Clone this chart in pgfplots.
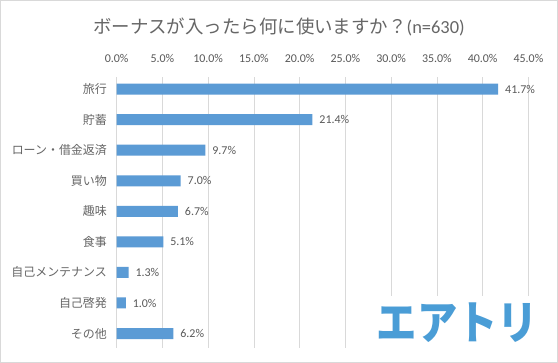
\documentclass[border=0pt]{standalone}
\usepackage{pgfplots}
\pgfplotsset{compat=1.18}
\usepackage{fontspec}
\setmainfont{Carlito}
\newfontfamily\jp{Noto Sans CJK JP}
\definecolor{barc}{HTML}{5B9BD5}
\definecolor{txt}{HTML}{595959}
\definecolor{jtxt}{HTML}{666666}
\definecolor{gridc}{HTML}{D9D9D9}
\definecolor{logoc}{HTML}{4A9DD6}
\begin{document}
\begin{tikzpicture}[x=1bp,y=1bp]
\draw[gridc, line width=0.75bp, fill=white] (0.5,0.5) rectangle (557.5,362.5);
\begin{axis}[
  at={(116.7bp,15.5bp)}, anchor=south west, scale only axis,
  width=411.6bp, height=270bp,
  xbar, bar width=11bp,
  xmin=0, xmax=45, ymin=-0.383, ymax=8.458, y dir=reverse,
  axis line style={draw=none}, tick style={draw=none},
  xticklabel pos=top,
  xtick={0,5,...,45},
  xmajorgrids, grid style={gridc, line width=0.75bp},
  /pgf/number format/assume math mode=true,
  xticklabel={\pgfmathprintnumber[fixed,fixed zerofill,precision=1]{\tick}\%},
  xticklabel style={font=\fontsize{12}{14}\selectfont, text=txt, anchor=center, yshift=19.2bp},
  ytick={0,...,8},
  yticklabels={旅行,貯蓄,ローン・借金返済,買い物,趣味,食事,自己メンテナンス,自己啓発,その他},
  yticklabel style={font=\jp\fontsize{12}{14}\selectfont, text=jtxt, xshift=-2bp},
  nodes near coords={\pgfmathprintnumber[fixed,fixed zerofill,precision=1]{\pgfplotspointmeta}\%},
  nodes near coords style={font=\fontsize{12}{14}\selectfont, text=txt, anchor=west, xshift=3.5bp},
]
\addplot[fill=barc, draw=none] coordinates {
(41.7,0) (21.4,1) (9.7,2) (7.0,3) (6.7,4) (5.1,5) (1.3,6) (1.0,7) (6.2,8)};
\end{axis}
\node[text=jtxt, font=\fontsize{18.5}{22}\selectfont] at (279,336) {{\jp ボーナスが入ったら何に使いますか？}(n=630)};
\fill[white] (360,7) rectangle (550,67);
\node[text=logoc, font=\jp\bfseries\fontsize{46}{50}\selectfont, xscale=0.88, inner sep=0] at (457.5,40) {エアトリ};
\end{tikzpicture}
\end{document}
